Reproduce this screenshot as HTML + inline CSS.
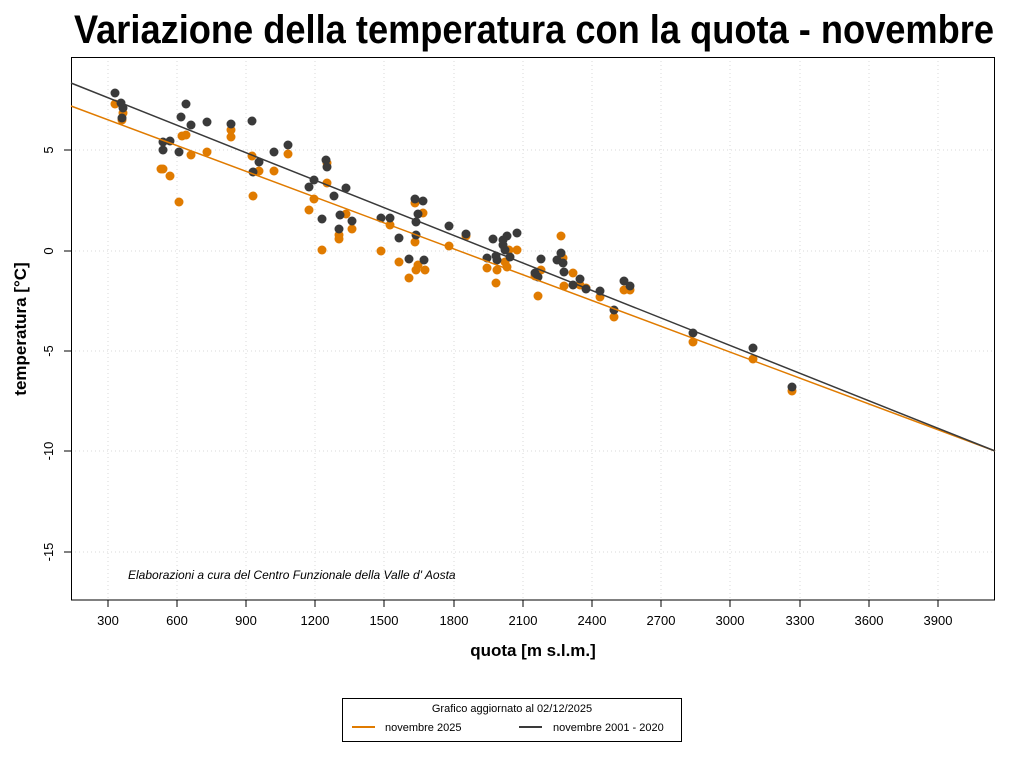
<!DOCTYPE html>
<html><head><meta charset="utf-8"><style>html,body{margin:0;padding:0;background:#fff}svg{display:block}</style></head><body>
<svg width="1024" height="768" xmlns="http://www.w3.org/2000/svg" font-family="Liberation Sans, sans-serif">
<text x="534" y="43" text-anchor="middle" font-size="40" font-weight="bold" textLength="920" lengthAdjust="spacingAndGlyphs">Variazione della temperatura con la quota -  novembre</text>
<g stroke="#d9d9d9" stroke-dasharray="1,3" stroke-width="1">
<line x1="108" y1="57" x2="108" y2="600"/><line x1="177" y1="57" x2="177" y2="600"/><line x1="246" y1="57" x2="246" y2="600"/><line x1="315" y1="57" x2="315" y2="600"/><line x1="384" y1="57" x2="384" y2="600"/><line x1="454" y1="57" x2="454" y2="600"/><line x1="523" y1="57" x2="523" y2="600"/><line x1="592" y1="57" x2="592" y2="600"/><line x1="661" y1="57" x2="661" y2="600"/><line x1="730" y1="57" x2="730" y2="600"/><line x1="800" y1="57" x2="800" y2="600"/><line x1="869" y1="57" x2="869" y2="600"/><line x1="938" y1="57" x2="938" y2="600"/>
<line x1="71" y1="150" x2="995" y2="150"/><line x1="71" y1="251" x2="995" y2="251"/><line x1="71" y1="351" x2="995" y2="351"/><line x1="71" y1="451" x2="995" y2="451"/><line x1="71" y1="552" x2="995" y2="552"/>
</g>
<rect x="71.5" y="57.5" width="923" height="542.5" fill="none" stroke="#000"/>
<g stroke="#000">
<line x1="108" y1="600" x2="108" y2="607"/><line x1="177" y1="600" x2="177" y2="607"/><line x1="246" y1="600" x2="246" y2="607"/><line x1="315" y1="600" x2="315" y2="607"/><line x1="384" y1="600" x2="384" y2="607"/><line x1="454" y1="600" x2="454" y2="607"/><line x1="523" y1="600" x2="523" y2="607"/><line x1="592" y1="600" x2="592" y2="607"/><line x1="661" y1="600" x2="661" y2="607"/><line x1="730" y1="600" x2="730" y2="607"/><line x1="800" y1="600" x2="800" y2="607"/><line x1="869" y1="600" x2="869" y2="607"/><line x1="938" y1="600" x2="938" y2="607"/>
<line x1="64" y1="150" x2="71" y2="150"/><line x1="64" y1="251" x2="71" y2="251"/><line x1="64" y1="351" x2="71" y2="351"/><line x1="64" y1="451" x2="71" y2="451"/><line x1="64" y1="552" x2="71" y2="552"/>
</g>
<g font-size="13" text-anchor="middle">
<text x="108" y="625">300</text><text x="177" y="625">600</text><text x="246" y="625">900</text><text x="315" y="625">1200</text><text x="384" y="625">1500</text><text x="454" y="625">1800</text><text x="523" y="625">2100</text><text x="592" y="625">2400</text><text x="661" y="625">2700</text><text x="730" y="625">3000</text><text x="800" y="625">3300</text><text x="869" y="625">3600</text><text x="938" y="625">3900</text>
<text transform="translate(53,150) rotate(-90)">5</text><text transform="translate(53,251) rotate(-90)">0</text><text transform="translate(53,351) rotate(-90)">-5</text><text transform="translate(53,451) rotate(-90)">-10</text><text transform="translate(53,552) rotate(-90)">-15</text>
</g>
<text x="533" y="656" text-anchor="middle" font-size="17" font-weight="bold">quota [m s.l.m.]</text>
<text transform="translate(26,329) rotate(-90)" text-anchor="middle" font-size="17" font-weight="bold">temperatura [°C]</text>
<text x="128" y="579" font-size="12" font-style="italic">Elaborazioni a cura del Centro Funzionale della Valle d' Aosta</text>
<g fill="#e07b00">
<circle cx="115" cy="104" r="4.5"/><circle cx="122" cy="120" r="4.5"/><circle cx="123" cy="113" r="4.5"/><circle cx="161" cy="169" r="4.5"/><circle cx="163" cy="169" r="4.5"/><circle cx="170" cy="176" r="4.5"/><circle cx="179" cy="202" r="4.5"/><circle cx="182" cy="136" r="4.5"/><circle cx="186" cy="135" r="4.5"/><circle cx="191" cy="155" r="4.5"/><circle cx="207" cy="152" r="4.5"/><circle cx="231" cy="130" r="4.5"/><circle cx="231" cy="137" r="4.5"/><circle cx="252" cy="156" r="4.5"/><circle cx="253" cy="196" r="4.5"/><circle cx="259" cy="171" r="4.5"/><circle cx="274" cy="171" r="4.5"/><circle cx="288" cy="154" r="4.5"/><circle cx="309" cy="210" r="4.5"/><circle cx="314" cy="199" r="4.5"/><circle cx="322" cy="250" r="4.5"/><circle cx="327" cy="183" r="4.5"/><circle cx="327" cy="163" r="4.5"/><circle cx="339" cy="239" r="4.5"/><circle cx="339" cy="235" r="4.5"/><circle cx="346" cy="214" r="4.5"/><circle cx="352" cy="229" r="4.5"/><circle cx="381" cy="251" r="4.5"/><circle cx="390" cy="225" r="4.5"/><circle cx="399" cy="262" r="4.5"/><circle cx="409" cy="278" r="4.5"/><circle cx="415" cy="203" r="4.5"/><circle cx="415" cy="242" r="4.5"/><circle cx="416" cy="270" r="4.5"/><circle cx="418" cy="265" r="4.5"/><circle cx="423" cy="213" r="4.5"/><circle cx="425" cy="270" r="4.5"/><circle cx="449" cy="246" r="4.5"/><circle cx="466" cy="236" r="4.5"/><circle cx="487" cy="268" r="4.5"/><circle cx="496" cy="283" r="4.5"/><circle cx="497" cy="270" r="4.5"/><circle cx="505" cy="262" r="4.5"/><circle cx="507" cy="267" r="4.5"/><circle cx="509" cy="250" r="4.5"/><circle cx="517" cy="250" r="4.5"/><circle cx="535" cy="276" r="4.5"/><circle cx="538" cy="296" r="4.5"/><circle cx="541" cy="270" r="4.5"/><circle cx="561" cy="236" r="4.5"/><circle cx="563" cy="258" r="4.5"/><circle cx="564" cy="286" r="4.5"/><circle cx="573" cy="273" r="4.5"/><circle cx="580" cy="285" r="4.5"/><circle cx="586" cy="288" r="4.5"/><circle cx="600" cy="297" r="4.5"/><circle cx="614" cy="317" r="4.5"/><circle cx="624" cy="290" r="4.5"/><circle cx="630" cy="290" r="4.5"/><circle cx="693" cy="342" r="4.5"/><circle cx="753" cy="359" r="4.5"/><circle cx="792" cy="391" r="4.5"/>
</g>
<g fill="#3a3a3a">
<circle cx="115" cy="93" r="4.5"/><circle cx="121" cy="103" r="4.5"/><circle cx="123" cy="108" r="4.5"/><circle cx="122" cy="118" r="4.5"/><circle cx="163" cy="142" r="4.5"/><circle cx="163" cy="150" r="4.5"/><circle cx="170" cy="141" r="4.5"/><circle cx="179" cy="152" r="4.5"/><circle cx="181" cy="117" r="4.5"/><circle cx="186" cy="104" r="4.5"/><circle cx="191" cy="125" r="4.5"/><circle cx="207" cy="122" r="4.5"/><circle cx="231" cy="124" r="4.5"/><circle cx="252" cy="121" r="4.5"/><circle cx="253" cy="172" r="4.5"/><circle cx="259" cy="162" r="4.5"/><circle cx="274" cy="152" r="4.5"/><circle cx="288" cy="145" r="4.5"/><circle cx="309" cy="187" r="4.5"/><circle cx="314" cy="180" r="4.5"/><circle cx="322" cy="219" r="4.5"/><circle cx="326" cy="160" r="4.5"/><circle cx="327" cy="167" r="4.5"/><circle cx="334" cy="196" r="4.5"/><circle cx="339" cy="229" r="4.5"/><circle cx="340" cy="215" r="4.5"/><circle cx="346" cy="188" r="4.5"/><circle cx="352" cy="221" r="4.5"/><circle cx="381" cy="218" r="4.5"/><circle cx="390" cy="218" r="4.5"/><circle cx="399" cy="238" r="4.5"/><circle cx="409" cy="259" r="4.5"/><circle cx="415" cy="199" r="4.5"/><circle cx="416" cy="222" r="4.5"/><circle cx="416" cy="235" r="4.5"/><circle cx="418" cy="214" r="4.5"/><circle cx="423" cy="201" r="4.5"/><circle cx="424" cy="260" r="4.5"/><circle cx="449" cy="226" r="4.5"/><circle cx="466" cy="234" r="4.5"/><circle cx="487" cy="258" r="4.5"/><circle cx="493" cy="239" r="4.5"/><circle cx="496" cy="256" r="4.5"/><circle cx="497" cy="260" r="4.5"/><circle cx="503" cy="240" r="4.5"/><circle cx="503" cy="245" r="4.5"/><circle cx="505" cy="250" r="4.5"/><circle cx="507" cy="236" r="4.5"/><circle cx="510" cy="257" r="4.5"/><circle cx="517" cy="233" r="4.5"/><circle cx="535" cy="273" r="4.5"/><circle cx="538" cy="277" r="4.5"/><circle cx="541" cy="259" r="4.5"/><circle cx="557" cy="260" r="4.5"/><circle cx="561" cy="253" r="4.5"/><circle cx="563" cy="263" r="4.5"/><circle cx="564" cy="272" r="4.5"/><circle cx="573" cy="285" r="4.5"/><circle cx="580" cy="279" r="4.5"/><circle cx="586" cy="289" r="4.5"/><circle cx="600" cy="291" r="4.5"/><circle cx="614" cy="310" r="4.5"/><circle cx="624" cy="281" r="4.5"/><circle cx="630" cy="286" r="4.5"/><circle cx="693" cy="333" r="4.5"/><circle cx="753" cy="348" r="4.5"/><circle cx="792" cy="387" r="4.5"/>
</g>
<line x1="71" y1="106" x2="995" y2="451" stroke="#e07b00" stroke-width="1.5"/>
<line x1="71" y1="83" x2="995" y2="451" stroke="#3a3a3a" stroke-width="1.5"/>
<rect x="342.5" y="698.5" width="339" height="43" fill="#fff" stroke="#000"/>
<text x="512" y="712" text-anchor="middle" font-size="11">Grafico aggiornato al 02/12/2025</text>
<line x1="352" y1="727" x2="375" y2="727" stroke="#e07b00" stroke-width="2"/>
<text x="385" y="731" font-size="11">novembre 2025</text>
<line x1="519" y1="727" x2="542" y2="727" stroke="#3a3a3a" stroke-width="2"/>
<text x="553" y="731" font-size="11">novembre 2001 - 2020</text>
</svg>
</body></html>
